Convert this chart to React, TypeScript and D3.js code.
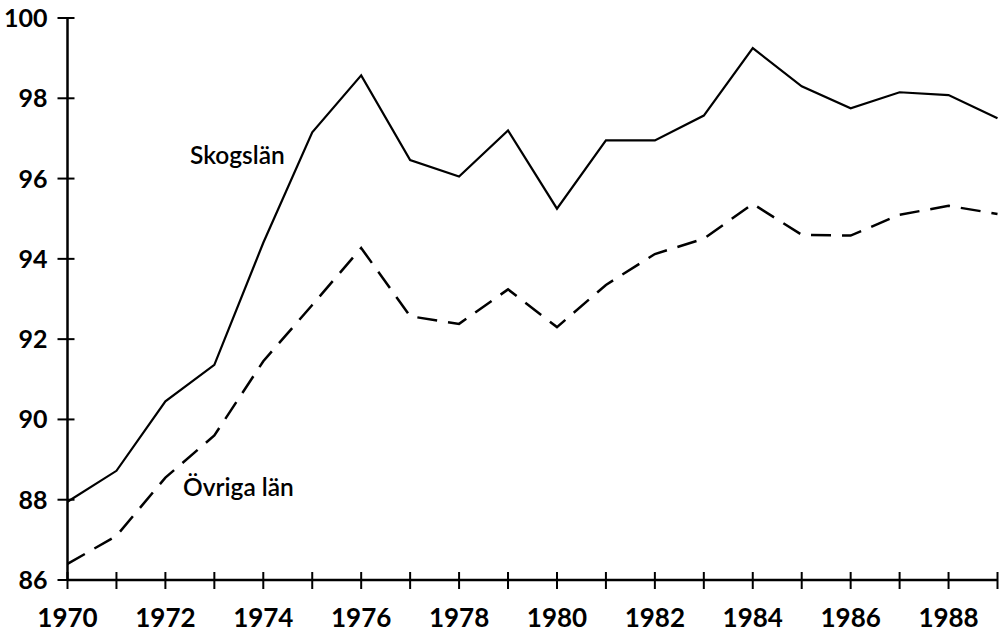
import React, { useEffect, useRef } from 'react';
import * as d3 from 'd3';

const years = [1970, 1971, 1972, 1973, 1974, 1975, 1976, 1977, 1978, 1979,
  1980, 1981, 1982, 1983, 1984, 1985, 1986, 1987, 1988, 1989];
const skogslan = [87.95, 88.72, 90.45, 91.36, 94.4, 97.15, 98.57, 96.46, 96.05, 97.2,
  95.25, 96.95, 96.95, 97.57, 99.25, 98.3, 97.75, 98.15, 98.08, 97.5];
const ovrigaLan = [86.4, 87.1, 88.55, 89.6, 91.45, 92.85, 94.27, 92.57, 92.38, 93.24,
  92.3, 93.35, 94.12, 94.5, 95.37, 94.6, 94.58, 95.1, 95.32, 95.12];
const yTicks = [86, 88, 90, 92, 94, 96, 98, 100];
const xLabels = [1970, 1972, 1974, 1976, 1978, 1980, 1982, 1984, 1986, 1988];

export default function App() {
  const svgRef = useRef<SVGSVGElement>(null);

  useEffect(() => {
    if (!svgRef.current) return;
    const svg = d3.select(svgRef.current);
    svg.selectAll('*').remove();

    const left = 67.5, right = 997.5, top = 18, bottom = 580;
    const font = 'Lato, "Open Sans", sans-serif';

    const x = d3.scaleLinear().domain([1970, 1989]).range([left, right]);
    const y = d3.scaleLinear().domain([86, 100]).range([bottom, top]);

    const g = svg.append('g');

    // axes
    g.append('line')
      .attr('x1', left).attr('x2', left)
      .attr('y1', y(100)).attr('y2', bottom)
      .attr('stroke', '#000').attr('stroke-width', 2.5);
    g.append('line')
      .attr('x1', left).attr('x2', right)
      .attr('y1', bottom).attr('y2', bottom)
      .attr('stroke', '#000').attr('stroke-width', 2.5);

    // y ticks
    g.selectAll('.ytick')
      .data(yTicks)
      .enter().append('line')
      .attr('x1', left - 10).attr('x2', left + 7)
      .attr('y1', d => y(d)).attr('y2', d => y(d))
      .attr('stroke', '#000').attr('stroke-width', 2);
    g.selectAll('.ylab')
      .data(yTicks)
      .enter().append('text')
      .attr('x', left - 20)
      .attr('y', d => y(d) + 9)
      .attr('text-anchor', 'end')
      .style('font-family', font)
      .style('font-weight', 'bold')
      .style('font-size', '25px')
      .text(d => d);

    // x ticks
    g.selectAll('.xtick')
      .data(years)
      .enter().append('line')
      .attr('x1', d => x(d)).attr('x2', d => x(d))
      .attr('y1', bottom - 8).attr('y2', bottom + 9)
      .attr('stroke', '#000').attr('stroke-width', 2);
    g.selectAll('.xlab')
      .data(xLabels)
      .enter().append('text')
      .attr('x', d => x(d))
      .attr('y', 627)
      .attr('text-anchor', 'middle')
      .style('font-family', font)
      .style('font-weight', 'bold')
      .style('font-size', '26px')
      .text(d => d);

    const line = d3.line<number>()
      .x((_, i) => x(years[i]))
      .y(d => y(d));

    g.append('path')
      .datum(skogslan)
      .attr('fill', 'none')
      .attr('stroke', '#000')
      .attr('stroke-width', 2.2)
      .attr('stroke-linejoin', 'miter')
      .attr('d', line);

    g.append('path')
      .datum(ovrigaLan)
      .attr('fill', 'none')
      .attr('stroke', '#000')
      .attr('stroke-width', 2.5)
      .attr('stroke-dasharray', '20,11')
      .attr('d', line);

    // series labels
    g.append('text')
      .attr('x', 190).attr('y', 164)
      .style('font-family', font)
      .style('font-weight', 600)
      .style('font-size', '24.5px')
      .text('Skogslän');
    g.append('text')
      .attr('x', 183).attr('y', 496)
      .style('font-family', font)
      .style('font-weight', 600)
      .style('font-size', '24.5px')
      .text('Övriga län');
  }, []);

  return (
    <svg ref={svgRef} width={1006} height={632}
      style={{ position: 'absolute', left: 0, top: 0, background: '#fff' }} />
  );
}
